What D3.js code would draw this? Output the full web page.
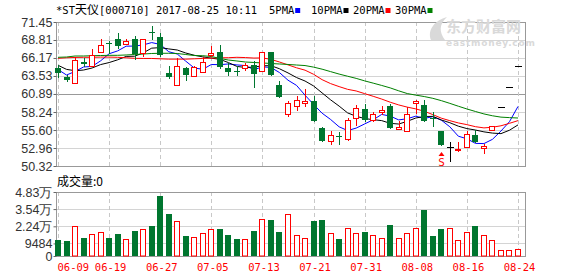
<!DOCTYPE html>
<html>
<head>
<meta charset="utf-8">
<script src="https://cdn.jsdelivr.net/npm/d3@7"></script>
<style>
  html, body { margin: 0; padding: 0; background: #fff; }
  svg { display: block; }
  .mono { font-family: "DejaVu Sans Mono", "Liberation Mono", monospace; }
  .axis text { font-family: "Liberation Sans", Arial, sans-serif; font-size: 12.5px; fill: #333; }
  .axis line { stroke: #666; }
</style>
</head>
<body>
<svg id="chart" width="578" height="276"></svg>
<script>
// *ST天仪 daily K-line, 2017-06-09 .. 2017-08-24
const dates = ['06-09','06-12','06-13','06-14','06-15','06-16','06-19','06-20','06-21','06-22','06-23',
  '06-26','06-27','06-28','06-29','06-30','07-03','07-04','07-05','07-06','07-07','07-10','07-11','07-12',
  '07-13','07-14','07-17','07-18','07-19','07-20','07-21','07-24','07-25','07-26','07-27','07-28','07-31',
  '08-01','08-02','08-03','08-04','08-07','08-08','08-09','08-10','08-11','08-14','08-15','08-16','08-17',
  '08-18','08-21','08-22','08-23','08-24'];
const opens = [64.66,63.35,62.55,65.62,65.04,67.00,68.30,68.96,68.18,68.96,66.86,70.00,69.20,63.92,62.21,
  64.66,63.53,64.16,66.61,67.10,64.70,64.27,64.70,65.14,64.30,67.00,62.25,57.95,59.12,59.52,59.81,55.90,
  53.95,54.65,54.28,57.36,58.69,57.07,58.30,59.17,55.75,55.50,59.52,59.32,57.36,55.41,53.06,52.80,53.06,
  54.92,52.96,55.60,58.96,61.91,65.00];
const highs = [65.14,63.65,66.27,66.10,67.44,68.91,68.66,69.80,68.91,69.44,68.91,70.90,69.79,65.00,66.12,
  64.90,65.00,66.27,67.97,68.10,65.40,65.04,65.50,65.77,67.00,67.10,62.84,59.81,60.64,61.62,60.64,56.00,
  55.41,55.27,57.36,59.32,59.42,58.20,59.17,59.42,56.97,58.93,60.00,60.00,58.20,55.41,53.80,53.80,55.50,
  55.60,53.55,56.15,58.96,61.91,65.00];
const lows = [63.38,62.75,62.50,65.00,65.00,66.86,66.90,67.60,68.08,65.98,66.27,68.90,66.46,63.20,62.06,
  62.94,63.40,63.92,66.27,64.66,63.72,63.72,64.30,61.96,64.07,63.72,60.49,57.47,58.43,58.93,56.97,54.03,
  53.45,53.55,53.95,56.23,56.97,56.73,57.85,55.85,55.75,55.50,57.95,56.88,56.23,53.45,51.00,52.33,52.96,
  53.80,52.08,55.60,58.96,61.91,65.00];
const closes = [64.00,62.95,65.87,65.23,66.61,68.08,68.18,67.97,68.66,66.71,68.91,69.90,66.61,63.34,65.00,
  63.67,64.90,65.63,66.86,64.90,64.16,64.22,65.14,63.82,67.00,63.72,60.49,59.52,60.00,59.81,56.97,54.03,
  54.92,54.60,57.07,58.79,57.07,57.95,58.55,55.85,56.00,57.95,59.81,56.88,57.17,53.45,53.06,52.88,55.02,
  53.80,53.30,56.15,58.96,61.91,65.00];
const volumes = [12000,11240,22470,13480,16480,17980,13480,16700,12730,18730,20220,22470,45170,31680,26220,
  14980,14000,17230,20220,20220,15730,12730,12730,18730,27710,26960,17980,31460,15730,13480,26220,26960,
  17230,12730,20970,17230,17980,15730,13480,23220,13480,17230,21500,34450,14980,20220,21500,11980,17980,
  22470,15730,11980,4490,4490,5240];

// moving averages as plotted (5 / 10 / 20 / 30 days)
const ma5 = [64.48,63.67,64.19,64.85,64.93,65.75,66.79,67.21,67.90,67.92,68.09,68.43,68.16,67.09,66.75,
  65.70,64.70,64.51,65.21,65.19,65.29,65.15,65.06,64.45,64.87,64.78,64.03,62.91,62.15,60.71,59.36,58.07,
  57.15,56.07,55.52,55.88,56.49,57.10,57.89,57.64,57.08,57.26,57.63,57.30,57.56,57.05,56.07,54.69,54.32,
  53.64,53.61,54.23,55.45,56.82,59.06];
const ma10 = [65.10,64.50,64.30,64.40,64.70,65.20,65.50,65.90,66.40,66.43,66.92,67.61,67.69,67.50,67.34,
  66.90,66.57,66.33,66.15,65.97,65.50,64.93,64.78,64.83,65.03,65.04,64.59,63.98,63.30,62.79,62.07,61.05,
  60.03,59.11,58.11,57.62,57.28,57.12,56.98,56.58,56.48,56.88,57.36,57.59,57.60,57.07,56.67,56.16,55.81,
  55.60,55.33,55.15,55.07,55.57,56.35];
const ma20 = [66.12,66.20,66.25,66.27,66.27,66.30,66.30,66.27,66.20,66.12,66.10,66.10,66.05,66.00,66.00,
  66.00,66.05,66.10,66.15,66.20,66.21,66.27,66.23,66.16,66.18,65.97,65.58,65.16,64.73,64.38,63.78,62.99,
  62.41,61.97,61.57,61.33,60.94,60.55,60.14,59.68,59.28,58.96,58.70,58.35,57.86,57.34,56.97,56.64,56.39,
  56.09,55.91,56.01,56.22,56.58,56.98];
const ma30 = [66.27,66.31,66.46,66.46,66.50,66.53,66.56,66.56,66.61,66.68,66.75,66.83,66.86,66.86,66.83,
  66.68,66.53,66.50,66.39,66.10,65.87,65.73,65.58,65.51,65.44,65.36,65.29,65.22,65.14,65.06,64.83,64.53,
  64.17,63.81,63.49,63.18,62.81,62.48,62.14,61.78,61.35,60.95,60.72,60.51,60.25,59.91,59.51,59.09,58.69,
  58.32,57.96,57.69,57.49,57.42,57.36];

const priceTicks = [71.45, 68.81, 66.17, 63.53, 60.89, 58.24, 55.60, 52.96, 50.32];
const volTicks = [0, 9484, 22400, 35400, 48300];
const volTickLabels = ['0', '9484', '2.24万', '3.54万', '4.83万'];
const dateTicks = ['06-09','06-19','06-27','07-05','07-13','07-21','07-31','08-08','08-16','08-24'];
const maNames = ['5PMA', '10PMA', '20PMA', '30PMA'];
const maColors = ['#0000ff', '#000000', '#ff0000', '#008000'];
const signalDate = '08-11';

const RED = '#ff0000', GREEN = '#00762f';
const svg = d3.select('#chart');

const x = d3.scalePoint().domain(dates).range([58, 518]);
const y = d3.scaleLinear().domain([50.32, 71.45]).range([166, 22]);
const yv = d3.scaleLinear().domain([0, 48300]).range([256, 192]);
const L = 56, R = 525;
const cx = (d) => Math.round(x(d));

// ---- grid + frames
function hgrid(scale, vals, dark) {
  svg.append('g').selectAll('line').data(vals).join('line')
    .attr('x1', L).attr('x2', R)
    .attr('y1', (v) => Math.round(scale(v)) + 0.5).attr('y2', (v) => Math.round(scale(v)) + 0.5)
    .attr('stroke', (v) => (v === dark ? '#999' : '#d4d4d4'));
}
hgrid(y, priceTicks, 60.89);
hgrid(yv, volTicks.slice(1), null);

[[22, 166], [192, 256]].forEach(([t, b]) => {
  svg.append('g').selectAll('line').data(dateTicks).join('line')
    .attr('x1', (d) => cx(d) + 0.5).attr('x2', (d) => cx(d) + 0.5)
    .attr('y1', t).attr('y2', b)
    .attr('stroke', '#c8c8c8').attr('stroke-dasharray', '4,3');
  svg.append('rect').attr('x', L + 0.5).attr('y', t + 0.5).attr('width', R - L).attr('height', b - t)
    .attr('fill', 'none').attr('stroke', '#999');
});

// ---- watermark
const wm = svg.append('g').attr('fill', '#d9d9d9');
wm.append('path').attr('d', 'M431,40 C427,30 435,20 447,17 C439,24 439,32 445,40 Z');
wm.append('text').attr('x', 446).attr('y', 32).attr('font-family', '"Noto Sans CJK SC", sans-serif')
  .attr('font-weight', 'bold').attr('font-size', 15).text('东方财富网');
wm.append('text').attr('x', 446).attr('y', 46).attr('font-family', '"DejaVu Sans", sans-serif')
  .attr('font-weight', 'bold').attr('font-size', 9).attr('letter-spacing', 0.8).text('eastmoney.com');

// ---- axes
const ay = svg.append('g').attr('class', 'axis').attr('transform', `translate(${L + 0.5},0)`)
  .call(d3.axisLeft(y).tickValues(priceTicks).tickSize(3).tickFormat(d3.format('.2f')));
const av = svg.append('g').attr('class', 'axis').attr('transform', `translate(${L + 0.5},0)`)
  .call(d3.axisLeft(yv).tickValues(volTicks).tickSize(3).tickFormat((d, i) => volTickLabels[i]));
[ay, av].forEach((g) => { g.select('.domain').remove(); g.selectAll('text').attr('x', -4); });
av.selectAll('text').attr('font-family', '"Liberation Sans", "Noto Sans CJK SC", sans-serif');

const ax = svg.append('g').attr('transform', 'translate(0,256)')
  .call(d3.axisBottom(x).tickValues(dateTicks).tickSize(0).tickPadding(8));
ax.select('.domain').remove();
ax.selectAll('text').attr('class', 'mono').attr('font-size', 10.5).attr('fill', RED)
  .attr('text-anchor', (d, i) => (i === 0 ? 'start' : 'middle'))
  .attr('dx', (d, i) => (i === 0 ? -1 : 1));

// ---- title & legend
const title = svg.append('text').attr('class', 'mono').attr('x', 56).attr('y', 14)
  .attr('font-size', 10.5).attr('fill', '#000');
title.append('tspan').text('*ST');
title.append('tspan').attr('font-family', '"Noto Sans CJK SC", sans-serif').attr('font-size', 12).text('天仪');
title.append('tspan').text('[000710] 2017-08-25 10:11');

const lg = svg.append('g').selectAll('g').data(maNames).join('g')
  .attr('transform', (d, i) => `translate(${269 + i * 42},0)`);
lg.append('text').attr('class', 'mono').attr('y', 14).attr('font-size', 10.5).attr('fill', '#000').text((d) => d);
lg.append('rect').attr('x', (d) => d.length * 6.3 + 1).attr('y', 8).attr('width', 5).attr('height', 5)
  .attr('fill', (d, i) => maColors[i]);

svg.append('text').attr('x', 57).attr('y', 186).attr('font-size', 12)
  .attr('font-family', '"Noto Sans CJK SC", sans-serif').attr('fill', '#000').text('成交量:0');

// ---- volume bars
const idx = d3.range(dates.length);
const dirOf = (i) => (closes[i] > opens[i] ? 1 : closes[i] < opens[i] ? -1 : 0);
svg.append('g').selectAll('rect').data(idx).join('rect')
  .attr('x', (i) => (dirOf(i) < 0 ? cx(dates[i]) - 3 : cx(dates[i]) - 2.5))
  .attr('y', (i) => Math.round(yv(volumes[i])) + (dirOf(i) < 0 ? 0 : 0.5))
  .attr('width', (i) => (dirOf(i) < 0 ? 6 : 5))
  .attr('height', (i) => 256 - Math.round(yv(volumes[i])) - (dirOf(i) < 0 ? 0 : 0.5))
  .attr('fill', (i) => (dirOf(i) < 0 ? GREEN : '#fff'))
  .attr('stroke', (i) => (dirOf(i) < 0 ? 'none' : RED));

// ---- moving averages
const ma = [ma5, ma10, ma20, ma30];
const lineGen = d3.line().x((v, i) => x(dates[i])).y((v) => y(v));
svg.append('g').selectAll('path').data(ma).join('path')
  .attr('d', lineGen).attr('fill', 'none').attr('stroke-width', 1)
  .attr('stroke', (d, i) => maColors[i]);

// ---- candles
const candles = svg.append('g').selectAll('g').data(idx).join('g');
candles.each(function (i) {
  const g = d3.select(this);
  const c = cx(dates[i]);
  const dir = dirOf(i);
  const col = dir > 0 ? RED : dir < 0 ? GREEN : '#000';
  const top = Math.round(y(Math.max(opens[i], closes[i])));
  const bot = Math.round(y(Math.min(opens[i], closes[i])));
  const hi = Math.round(y(highs[i])), lo = Math.round(y(lows[i]));
  if (dir > 0) {
    if (hi < top) g.append('line').attr('x1', c + 0.5).attr('x2', c + 0.5).attr('y1', hi).attr('y2', top).attr('stroke', col);
    if (lo > bot) g.append('line').attr('x1', c + 0.5).attr('x2', c + 0.5).attr('y1', bot).attr('y2', lo).attr('stroke', col);
    g.append('rect').attr('x', c - 2.5).attr('y', top + 0.5).attr('width', 5).attr('height', Math.max(1, bot - top))
      .attr('fill', '#fff').attr('stroke', col);
  } else {
    if (lo > hi) g.append('line').attr('x1', c + 0.5).attr('x2', c + 0.5).attr('y1', hi).attr('y2', lo + 1).attr('stroke', col);
    if (dir < 0) {
      g.append('rect').attr('x', c - 3).attr('y', top).attr('width', 6).attr('height', Math.max(1, bot - top)).attr('fill', col);
    } else {
      g.append('line').attr('x1', c - 3).attr('x2', c + 4).attr('y1', top + 0.5).attr('y2', top + 0.5).attr('stroke', col);
    }
  }
});

// ---- sell signal
const sx = cx(signalDate) + 0.5;
svg.append('path').attr('d', `M${sx},152 L${sx - 3},156 L${sx + 3},156 Z`).attr('fill', RED);
svg.append('text').attr('class', 'mono').attr('x', sx).attr('y', 166).attr('text-anchor', 'middle')
  .attr('font-size', 11).attr('fill', RED).text('S');
</script>
</body>
</html>
